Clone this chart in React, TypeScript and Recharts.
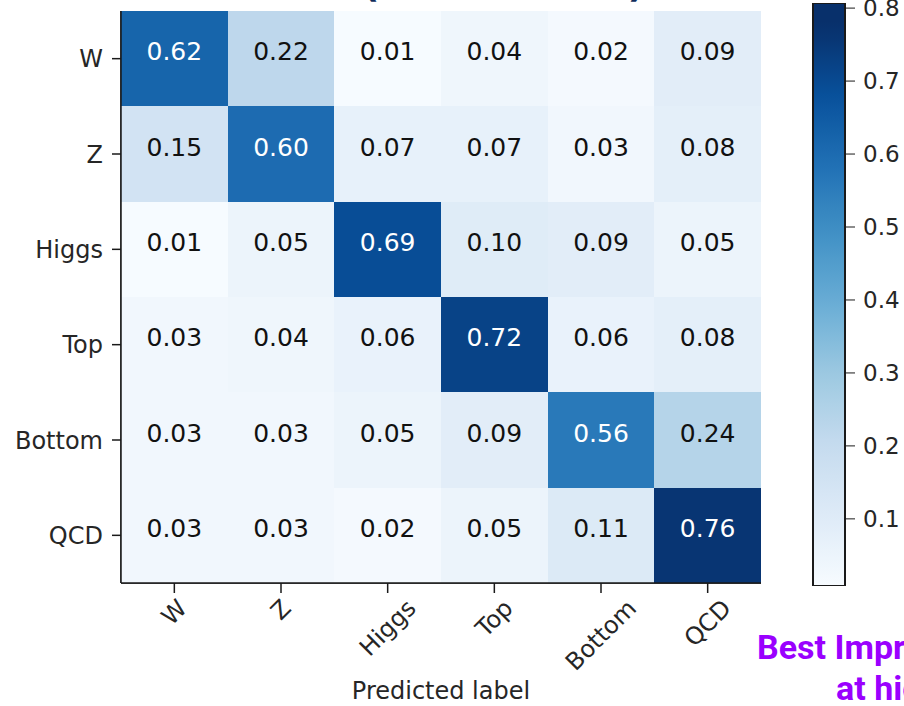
import React from "react";
import { ScatterChart, Scatter, XAxis, YAxis, BarChart, Bar } from "recharts";

// ---------- data ----------
const CATEGORIES = ["W", "Z", "Higgs", "Top", "Bottom", "QCD"];
const ROW_W = [0.62, 0.22, 0.01, 0.04, 0.02, 0.09];
const ROW_Z = [0.15, 0.6, 0.07, 0.07, 0.03, 0.08];
const ROW_HIGGS = [0.01, 0.05, 0.69, 0.1, 0.09, 0.05];
const ROW_TOP = [0.03, 0.04, 0.06, 0.72, 0.06, 0.08];
const ROW_BOTTOM = [0.03, 0.03, 0.05, 0.09, 0.56, 0.24];
const ROW_QCD = [0.03, 0.03, 0.02, 0.05, 0.11, 0.76];
const ROWS = [ROW_W, ROW_Z, ROW_HIGGS, ROW_TOP, ROW_BOTTOM, ROW_QCD];
const CB_TICKS = [0.1, 0.2, 0.3, 0.4, 0.5, 0.6, 0.7, 0.8];
const CB_MIN = 0.008;
const CB_MAX = 0.807;
const X_LABEL = "Predicted label";

// ---------- layout ----------
const W = 904;
const H = 706;
const PLOT_L = 121;
const PLOT_R = 761;
const PLOT_T = 11;
const PLOT_B = 583;
const CELL_W = (PLOT_R - PLOT_L) / CATEGORIES.length;
const CELL_H = (PLOT_B - PLOT_T) / CATEGORIES.length;
const FONT = "'DejaVu Sans', sans-serif";
const INK = "#262626";
const COLOR_MIN = 0.008;
const COLOR_MAX = 0.775;

const BLUES = ["#f7fbff", "#deebf7", "#c6dbef", "#9ecae1", "#6baed6", "#4292c6", "#2171b5", "#08519c", "#08306b"];
function hexToRgb(h: string) {
  return [parseInt(h.slice(1, 3), 16), parseInt(h.slice(3, 5), 16), parseInt(h.slice(5, 7), 16)];
}
function blues(v: number) {
  let t = (v - COLOR_MIN) / (COLOR_MAX - COLOR_MIN);
  t = Math.max(0, Math.min(1, t));
  const p = t * (BLUES.length - 1);
  const i = Math.min(BLUES.length - 2, Math.floor(p));
  const f = p - i;
  const a = hexToRgb(BLUES[i]);
  const b = hexToRgb(BLUES[i + 1]);
  const c = a.map((x, k) => Math.round(x + (b[k] - x) * f));
  return `rgb(${c[0]},${c[1]},${c[2]})`;
}

const cells = ROWS.flatMap((row, r) => row.map((v, c) => ({ x: c, y: r, v })));
const MAX_V = Math.max(...cells.map((d) => d.v));

let measureCtx: CanvasRenderingContext2D | null = null;
function textWidth(s: string, size: number) {
  if (!measureCtx && typeof document !== "undefined") {
    measureCtx = document.createElement("canvas").getContext("2d");
  }
  if (!measureCtx) return s.length * size * 0.6;
  measureCtx.font = `${size}px 'DejaVu Sans'`;
  return measureCtx.measureText(s).width;
}

const CellShape = (props: any) => {
  const { cx, cy, payload } = props;
  const v = payload.v;
  return (
    <g>
      <rect
        x={cx - CELL_W / 2}
        y={cy - CELL_H / 2}
        width={CELL_W + 0.5}
        height={CELL_H + 0.5}
        fill={blues(v)}
        shapeRendering="crispEdges"
      />
      <text
        x={cx}
        y={cy - 7}
        textAnchor="middle"
        dominantBaseline="central"
        fontSize={25}
        fontFamily={FONT}
        fill={v > MAX_V / 2 ? "#ffffff" : "#111111"}
      >
        {v.toFixed(2)}
      </text>
    </g>
  );
};

const XTick = (props: any) => {
  const { x, y, payload } = props;
  const label = CATEGORIES[payload.value];
  const fs = 24;
  const w = textWidth(label, fs);
  const half = ((w + fs * 0.95) * 0.7071) / 2;
  const cy = y + 1 + half;
  return (
    <text
      x={x}
      y={cy}
      textAnchor="middle"
      dominantBaseline="central"
      fontSize={fs}
      fontFamily={FONT}
      fill={INK}
      transform={`rotate(-45, ${x}, ${cy})`}
    >
      {label}
    </text>
  );
};

const gradStops = Array.from({ length: 33 }, (_, i) => {
  const off = i / 32;
  const v = CB_MAX - off * (CB_MAX - CB_MIN);
  return { off, color: blues(v) };
});

const MARGIN = { top: PLOT_T, right: W - PLOT_R, bottom: 13, left: PLOT_L - 110 };
const AXIS_STROKE = "#1a1a1a";

export default function App() {
  return (
    <div
      style={{
        position: "absolute",
        left: 0,
        top: 0,
        width: W,
        height: H,
        overflow: "hidden",
        background: "#ffffff",
        fontFamily: FONT,
      }}
    >
      <svg width={W} height={H} style={{ position: "absolute", left: 0, top: 0 }}>
        <defs>
          <linearGradient id="cbGrad" x1="0" y1="0" x2="0" y2="1">
            {gradStops.map((s, i) => (
              <stop key={i} offset={s.off} stopColor={s.color} />
            ))}
          </linearGradient>
        </defs>
        <text x={371} y={-3} fontSize={36} fontWeight={700} fontFamily={FONT} fill="#0f2d5c" textAnchor="middle">
          (
        </text>
        <text x={636} y={-3} fontSize={36} fontWeight={700} fontFamily={FONT} fill="#0f2d5c" textAnchor="middle">
          )
        </text>
        <text x={757} y={659} fontSize={34} fontWeight={700} fontFamily="Roboto, sans-serif" fill="#9a00ff">
          Best Improvement
        </text>
        <text x={836} y={700} fontSize={34} fontWeight={700} fontFamily="Roboto, sans-serif" fill="#9a00ff">
          at high pT
        </text>
      </svg>

      {/* heatmap cells with ticks and labels */}
      <div style={{ position: "absolute", left: 0, top: 0 }}>
        <ScatterChart width={W} height={H} margin={MARGIN}>
          <XAxis
            type="number"
            dataKey="x"
            domain={[-0.5, 5.5]}
            ticks={[0, 1, 2, 3, 4, 5]}
            interval={0}
            allowDataOverflow
            height={H - PLOT_B - 13}
            tickSize={10}
            tick={<XTick />}
            stroke={AXIS_STROKE}
            strokeWidth={1.5}
            label={{ value: X_LABEL, position: "insideBottom", offset: -6, fontSize: 24, fill: INK, fontFamily: FONT }}
          />
          <YAxis
            type="number"
            dataKey="y"
            domain={[-0.5, 5.5]}
            reversed
            ticks={[0, 1, 2, 3, 4, 5]}
            interval={0}
            allowDataOverflow
            width={110}
            tickSize={9}
            tickMargin={9}
            tickFormatter={(v: number) => CATEGORIES[v]}
            tick={{ fontSize: 24, fill: INK, fontFamily: FONT }}
            stroke={AXIS_STROKE}
            strokeWidth={1.5}
          />
          <Scatter data={cells} shape={CellShape} isAnimationActive={false} />
        </ScatterChart>
      </div>

      {/* frame (spines) drawn above the cells */}
      <div style={{ position: "absolute", left: 0, top: 0, pointerEvents: "none" }}>
        <ScatterChart width={W} height={H} margin={MARGIN}>
          <XAxis type="number" domain={[-0.5, 5.5]} height={H - PLOT_B - 13} tick={false} tickLine={false} stroke={AXIS_STROKE} strokeWidth={1.5} />
          <YAxis type="number" domain={[-0.5, 5.5]} width={110} tick={false} tickLine={false} stroke={AXIS_STROKE} strokeWidth={1.5} />
          <XAxis xAxisId="top" orientation="top" type="number" domain={[-0.5, 5.5]} height={0} tick={false} tickLine={false} stroke={AXIS_STROKE} strokeWidth={1.5} />
          <YAxis yAxisId="right" orientation="right" type="number" domain={[-0.5, 5.5]} width={0} tick={false} tickLine={false} stroke={AXIS_STROKE} strokeWidth={1.5} />
        </ScatterChart>
      </div>

      {/* colorbar */}
      <div style={{ position: "absolute", left: 0, top: 0 }}>
        <BarChart
          width={W}
          height={H}
          data={[{ name: "cb", v: CB_MAX }]}
          margin={{ top: 3, right: 9, bottom: H - 586, left: 813 }}
          barCategoryGap={0}
        >
          <XAxis dataKey="name" hide />
          <YAxis
            type="number"
            orientation="right"
            domain={[CB_MIN, CB_MAX]}
            allowDataOverflow
            ticks={CB_TICKS}
            interval={0}
            tickFormatter={(v: number) => v.toFixed(1)}
            width={50}
            tickSize={10}
            tickMargin={8}
            axisLine={false}
            tickLine={{ stroke: AXIS_STROKE }}
            tick={{ fontSize: 23, fill: INK, fontFamily: FONT, textAnchor: "start" }}
          />
          <Bar dataKey="v" fill="url(#cbGrad)" stroke={AXIS_STROKE} strokeWidth={2} isAnimationActive={false} />
        </BarChart>
      </div>
    </div>
  );
}
